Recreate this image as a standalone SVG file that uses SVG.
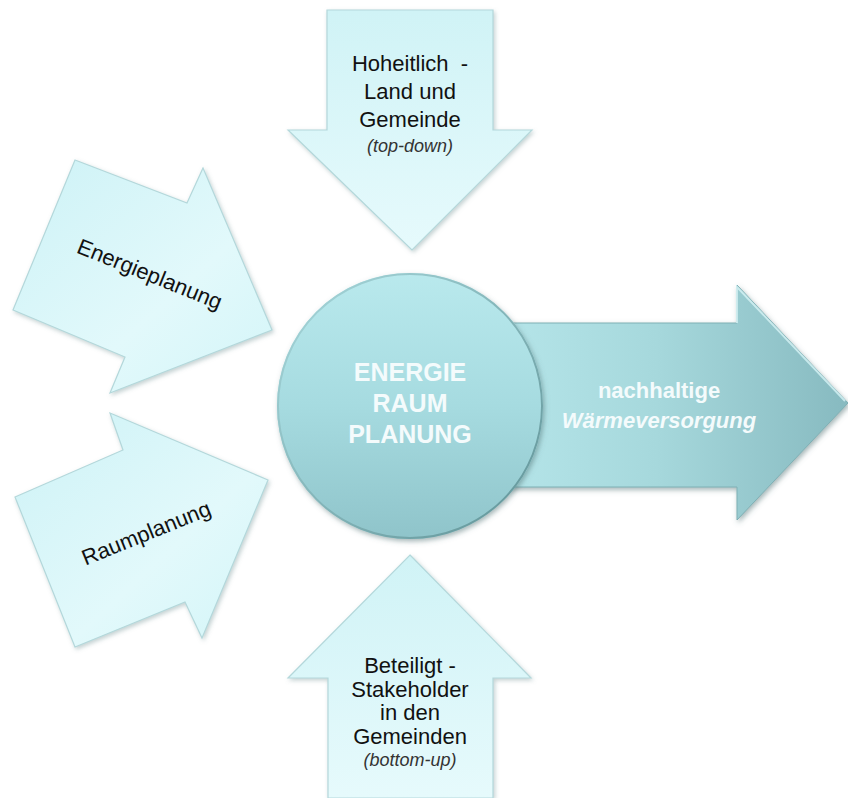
<svg xmlns="http://www.w3.org/2000/svg" width="848" height="798" viewBox="0 0 848 798">
  <defs>
    <linearGradient id="gLight" x1="0" y1="0" x2="1" y2="1">
      <stop offset="0" stop-color="#cdf2f6"/>
      <stop offset="0.6" stop-color="#e2f9fb"/>
      <stop offset="1" stop-color="#d3f5f8"/>
    </linearGradient>
    <linearGradient id="gLightV" x1="0" y1="0" x2="0" y2="1">
      <stop offset="0" stop-color="#d0f3f6"/>
      <stop offset="1" stop-color="#e6fafc"/>
    </linearGradient>
    <linearGradient id="gCircle" x1="0" y1="0" x2="0" y2="1">
      <stop offset="0" stop-color="#b9e9ed"/>
      <stop offset="0.5" stop-color="#a6dbe0"/>
      <stop offset="1" stop-color="#8fc4ca"/>
    </linearGradient>
    <linearGradient id="gCircleEdge" x1="0" y1="0" x2="1" y2="1">
      <stop offset="0" stop-color="#a9d9dd"/>
      <stop offset="1" stop-color="#5f9296"/>
    </linearGradient>
    <linearGradient id="gRight" x1="0" y1="0" x2="1" y2="0">
      <stop offset="0" stop-color="#b5e5e9"/>
      <stop offset="0.45" stop-color="#a6d8dc"/>
      <stop offset="1" stop-color="#87bac0"/>
    </linearGradient>
    <filter id="shadow" x="-10%" y="-10%" width="125%" height="125%">
      <feDropShadow dx="1.5" dy="2" stdDeviation="2" flood-color="#7a9a9c" flood-opacity="0.45"/>
    </filter>
    <filter id="shadowDark" x="-10%" y="-10%" width="125%" height="125%">
      <feDropShadow dx="1.5" dy="2.5" stdDeviation="2.5" flood-color="#4d6f72" flood-opacity="0.5"/>
    </filter>
  </defs>
  <style>
    .light { stroke: #b4d8db; stroke-width: 1.2; filter: url(#shadow); }
    .lbl { font-family: "Liberation Sans", Arial, sans-serif; fill: #111; text-anchor: middle; }
    .sub { font-family: "Liberation Sans", Arial, sans-serif; font-style: italic; fill: #333; text-anchor: middle; }
    .wht { font-family: "Liberation Sans", Arial, sans-serif; font-weight: bold; fill: #f4fbfc; text-anchor: middle; }
  </style>

  <g id="energieplanung">
    <polygon class="light" fill="url(#gLight)" points="75,160 187,203 203,168 272,330 110,393 125,357 13,310"/>
    <text class="lbl" font-size="22" transform="translate(147,281) rotate(22)">Energieplanung</text>
  </g>

  <g id="raumplanung">
    <polygon class="light" fill="url(#gLight)" points="15,497 123,450 110,413 268,480 202,638 185,602 75,647"/>
    <text class="lbl" font-size="22" transform="translate(149,540) rotate(-22)">Raumplanung</text>
  </g>

  <g id="hoheitlich">
    <polygon class="light" fill="url(#gLightV)" points="327,10 493,10 493,130 532,130 412,250 288,130 327,130"/>
    <text class="lbl" font-size="22" x="410" y="71" xml:space="preserve">Hoheitlich  -</text>
    <text class="lbl" font-size="22" x="410" y="99">Land und</text>
    <text class="lbl" font-size="22" x="410" y="127">Gemeinde</text>
    <text class="sub" font-size="18" x="410" y="152">(top-down)</text>
  </g>

  <g id="beteiligt">
    <polygon class="light" fill="url(#gLightV)" points="410,555 531,678 493,678 493,798 328,798 328,678 288,678"/>
    <text class="lbl" font-size="22" x="410" y="673">Beteiligt -</text>
    <text class="lbl" font-size="22" x="410" y="697">Stakeholder</text>
    <text class="lbl" font-size="22" x="410" y="720">in den</text>
    <text class="lbl" font-size="22" x="410" y="744">Gemeinden</text>
    <text class="sub" font-size="18" x="410" y="766">(bottom-up)</text>
  </g>

  <g id="waermeversorgung">
    <polygon fill="url(#gRight)" stroke="#7fb0b5" stroke-width="1" filter="url(#shadowDark)" points="500,323 737,323 737,285 848,403 737,520 737,487 500,487"/>
    <polyline points="737,323 737,287 845,401" fill="none" stroke="#d6f3f5" stroke-width="2" opacity="0.8"/>
    <text class="wht" font-size="22" x="659" y="398">nachhaltige</text>
    <text class="wht" font-size="22" font-style="italic" x="659" y="428">Wärmeversorgung</text>
  </g>

  <g id="energieraumplanung">
    <circle cx="410" cy="406" r="133" fill="url(#gCircle)" filter="url(#shadowDark)"/>
    <circle cx="410" cy="406" r="132" fill="none" stroke="url(#gCircleEdge)" stroke-width="2"/>
    <text class="wht" font-size="25" x="410" y="381">ENERGIE</text>
    <text class="wht" font-size="25" x="410" y="412">RAUM</text>
    <text class="wht" font-size="25" x="410" y="443">PLANUNG</text>
  </g>
</svg>
